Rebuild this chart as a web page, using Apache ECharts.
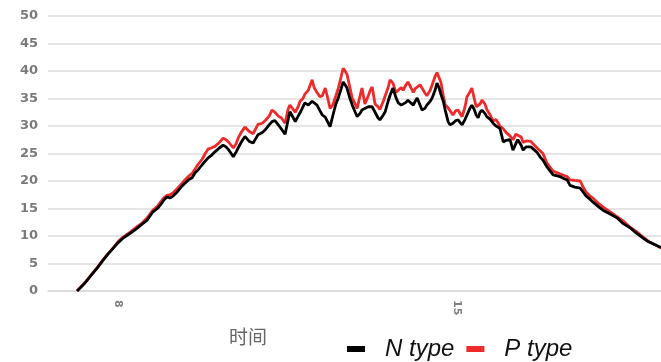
<!DOCTYPE html>
<html>
<head>
<meta charset="utf-8">
<script src="https://cdn.jsdelivr.net/npm/echarts@6/dist/echarts.min.js"></script>
<style>
  html, body { margin: 0; padding: 0; background: #fff; }
  #chart { width: 661px; height: 362px; }
</style>
</head>
<body>
<div id="chart"></div>
<script>
// Sample times (decimal hours of the day)
const times = [
  7.15, 7.30, 7.42, 7.57, 7.69, 7.79, 7.90, 8.00, 8.10, 8.25,
  8.39, 8.50, 8.60, 8.72, 8.81, 8.87, 8.95, 9.01, 9.07, 9.14,
  9.22, 9.30, 9.38, 9.45, 9.53, 9.59, 9.65, 9.74, 9.80, 9.86,
  9.92, 10.00, 10.09, 10.17, 10.23, 10.29, 10.38, 10.44, 10.48, 10.54,
  10.62, 10.71, 10.79, 10.85, 10.89, 10.98, 11.04, 11.12, 11.18, 11.24,
  11.31, 11.37, 11.45, 11.51, 11.55, 11.62, 11.66, 11.72, 11.76, 11.82,
  11.86, 11.93, 11.97, 12.01, 12.05, 12.11, 12.17, 12.22, 12.28, 12.32,
  12.38, 12.44, 12.50, 12.55, 12.61, 12.65, 12.69, 12.73, 12.79, 12.84,
  12.90, 12.94, 13.00, 13.04, 13.10, 13.17, 13.21, 13.25, 13.31, 13.37,
  13.41, 13.48, 13.52, 13.58, 13.62, 13.68, 13.74, 13.79, 13.85, 13.89,
  13.95, 13.99, 14.05, 14.10, 14.14, 14.18, 14.24, 14.28, 14.34, 14.38,
  14.45, 14.49, 14.55, 14.59, 14.63, 14.67, 14.72, 14.76, 14.82, 14.86,
  14.92, 14.98, 15.03, 15.07, 15.11, 15.17, 15.21, 15.27, 15.31, 15.36,
  15.40, 15.44, 15.48, 15.52, 15.58, 15.62, 15.69, 15.75, 15.81, 15.89,
  15.96, 16.02, 16.10, 16.16, 16.22, 16.26, 16.33, 16.37, 16.43, 16.47,
  16.53, 16.57, 16.66, 16.72, 16.78, 16.86, 16.93, 16.99, 17.05, 17.13,
  17.22, 17.28, 17.34, 17.44, 17.55, 17.61, 17.67, 17.75, 17.81, 17.92,
  18.02, 18.17, 18.31, 18.43, 18.58, 18.70, 18.85, 18.95, 19.03, 19.12,
  19.22
];

// N type readings
const nType = [
  0, 1.3, 2.6, 4.2, 5.6, 6.7, 7.8, 8.8, 9.6, 10.5,
  11.4, 12.2, 12.9, 14.4, 15.0, 15.6, 16.6, 17.1, 16.9, 17.3,
  18.0, 18.9, 19.6, 20.2, 20.6, 21.5, 22.0, 23.0, 23.6, 24.2,
  24.6, 25.3, 26.0, 26.5, 26.2, 25.6, 24.4, 25.3, 26.0, 27.0,
  28.1, 27.2, 26.9, 27.8, 28.4, 28.8, 29.3, 30.2, 30.8, 31.0,
  30.2, 29.5, 28.5, 31.0, 32.6, 31.5, 30.8, 31.8, 32.4, 33.5,
  34.2, 33.8, 33.8, 34.5, 34.7, 33.8, 32.8, 32.0, 31.6, 31.5,
  29.9, 32.0, 34.0, 35.1, 36.8, 38.0, 37.5, 36.9, 35.0, 33.8,
  32.5, 31.7, 32.3, 32.9, 33.2, 33.5, 33.8, 33.5, 32.5, 31.5,
  31.1, 32.0, 32.6, 34.5, 35.6, 36.9, 35.2, 34.2, 33.8, 33.8,
  34.3, 34.7, 34.2, 33.8, 34.5, 35.1, 33.8, 32.9, 33.2, 33.8,
  34.5, 35.1, 36.5, 37.8, 37.0, 35.8, 34.5, 32.9, 30.8, 30.2,
  30.5, 31.0, 31.1, 30.6, 30.2, 31.2, 32.0, 33.2, 33.8, 33.0,
  32.0, 31.5, 32.5, 32.9, 32.3, 31.7, 31.2, 30.5, 30.0, 29.6,
  27.1, 27.4, 27.5, 25.6, 26.8, 27.5, 26.5, 25.6, 26.2, 26.5,
  26.2, 26.0, 25.2, 24.4, 23.8, 22.6, 21.8, 21.1, 21.0, 20.8,
  20.4, 20.2, 19.2, 18.9, 18.7, 18.0, 17.3, 16.7, 16.2, 15.4,
  14.7, 14.0, 13.3, 12.3, 11.5, 10.6, 9.6, 9.0, 8.7, 8.3,
  7.9
];

// P type readings
const pType = [
  0, 1.4, 2.7, 4.3, 5.7, 6.8, 7.9, 9.0, 9.8, 10.7,
  11.7, 12.4, 13.3, 14.7, 15.4, 16.1, 17.0, 17.4, 17.5, 17.9,
  18.6, 19.4, 20.2, 20.8, 21.4, 22.2, 23.0, 24.0, 25.0, 25.8,
  26.0, 26.3, 27.0, 27.8, 27.5, 27.0, 26.0, 26.8, 27.8, 28.8,
  29.8, 29.0, 28.6, 29.6, 30.3, 30.5, 31.0, 31.8, 32.9, 32.5,
  31.8, 31.5, 30.5, 33.0, 33.8, 33.0, 32.5, 33.5, 34.5, 35.0,
  35.8, 36.5, 37.5, 38.4, 37.0, 36.1, 35.3, 35.5, 36.9, 35.5,
  33.2, 33.9, 35.5, 36.9, 39.0, 40.5, 40.0, 39.4, 37.0, 35.0,
  34.0, 33.2, 35.5, 36.9, 34.0, 35.5, 36.5, 37.1, 34.0, 33.5,
  33.0, 34.5, 35.5, 37.0, 38.4, 37.8, 36.1, 36.5, 37.0, 36.5,
  37.5, 38.0, 37.0, 36.1, 36.8, 37.0, 37.5, 37.8, 36.0, 35.5,
  36.5, 37.5, 39.0, 39.7, 40.0, 38.0, 35.5, 33.8, 33.3, 33.0,
  32.0, 32.8, 32.9, 32.2, 31.7, 33.5, 35.3, 36.2, 36.9, 35.0,
  33.5, 33.2, 34.0, 34.7, 34.0, 33.0, 32.0, 30.9, 31.2, 30.0,
  29.5, 28.8, 28.2, 27.5, 28.5, 28.7, 28.0, 27.0, 27.3, 27.5,
  27.2, 26.8, 26.0, 25.5, 25.0, 23.3, 22.5, 21.8, 21.6, 21.3,
  21.0, 20.8, 20.2, 20.1, 20.0, 18.9, 18.0, 17.3, 16.9, 16.0,
  15.3, 14.4, 13.5, 12.8, 11.6, 10.9, 9.8, 9.1, 8.7, 8.3,
  7.8
];

// Hour labels shown under the time axis
const hourLabels = [8, 15];
const yTicks = { min: 0, max: 50, step: 5 };

const pairs = (vals) => times.map((t, i) => [t, vals[i]]);

const chart = echarts.init(document.getElementById('chart'), null, { renderer: 'canvas' });

chart.setOption({
  animation: false,
  backgroundColor: '#ffffff',
  grid: { left: 48, right: 0, top: 16, bottom: 71, containLabel: false },
  title: {
    text: '时间',
    left: 224,
    top: 322,
    textStyle: {
      fontFamily: 'Noto Sans CJK SC',
      fontSize: 19,
      fontWeight: 'normal',
      color: '#666'
    }
  },
  legend: {
    left: 347,
    top: 337,
    padding: 0,
    itemWidth: 18,
    itemHeight: 6,
    itemGap: 12,
    icon: 'rect',
    data: ['N type', 'P type'],
    textStyle: {
      fontFamily: 'Liberation Sans',
      fontStyle: 'italic',
      fontSize: 24,
      color: '#111',
      padding: [0, 0, 0, 15]
    }
  },
  xAxis: {
    type: 'value',
    min: 6.55,
    max: 19.22,
    axisLine: { show: true, lineStyle: { color: '#d9d9d9', width: 1.5 } },
    axisTick: { show: false },
    splitLine: { show: false },
    axisLabel: {
      customValues: hourLabels,
      rotate: -90,
      margin: 9,
      fontFamily: 'DejaVu Sans',
      fontWeight: 'bold',
      fontSize: 11,
      color: '#808080'
    }
  },
  yAxis: {
    type: 'value',
    min: yTicks.min,
    max: yTicks.max,
    interval: yTicks.step,
    axisLine: { show: false },
    axisTick: { show: false },
    splitLine: { lineStyle: { color: '#dcdcdc', width: 1.5 } },
    axisLabel: {
      margin: 10,
      fontFamily: 'DejaVu Sans',
      fontWeight: 'bold',
      fontSize: 13,
      color: '#7a7a7a'
    }
  },
  series: [
    {
      name: 'P type',
      type: 'line',
      data: pairs(pType),
      showSymbol: false,
      z: 2,
      lineStyle: { color: '#ee2a2a', width: 2.8 },
      itemStyle: { color: '#ee2a2a' }
    },
    {
      name: 'N type',
      type: 'line',
      data: pairs(nType),
      showSymbol: false,
      z: 3,
      lineStyle: { color: '#000000', width: 2.8 },
      itemStyle: { color: '#000000' }
    }
  ]
});
</script>
</body>
</html>
